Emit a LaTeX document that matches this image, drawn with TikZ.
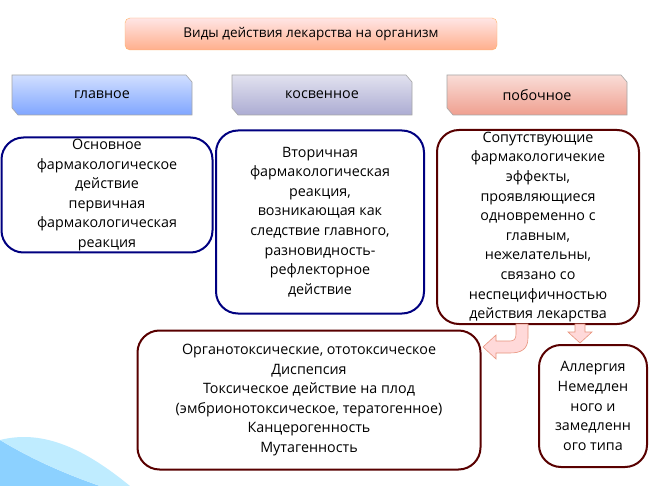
\documentclass[tikz,border=0pt]{standalone}
\usepackage{fontspec}
\setmainfont{Open Sans}
\usetikzlibrary{shapes.geometric,arrows.meta}
\begin{document}
\begin{tikzpicture}[x=1pt,y=-1pt,
  txt/.style={font=\fontsize{14.3}{19.6}\selectfont,align=center,text=black,inner sep=0pt},
  bigbox/.style={draw=#1,line width=2pt,rounded corners=22pt,fill=white},
  tag/.style={draw=gray!70,line width=0.6pt,top color=#1!18,bottom color=#1!50}]
\useasboundingbox (0,0) rectangle (650,486);
\fill[white] (0,0) rectangle (650,486);
\fill[blue!40!cyan!45] (0,486) -- (0,440) .. controls (30,458) and (60,472) .. (100,486) -- cycle;
\fill[blue!30!cyan!25] (0,440) .. controls (40,430) and (80,445) .. (130,486) -- (100,486) .. controls (60,472) and (30,458) .. (0,440);
% title
\node[draw=orange!60,rounded corners=5pt,top color=red!10,bottom color=red!40!orange!45,
  minimum width=372pt,minimum height=32pt,txt,font=\fontsize{13.5}{15}\selectfont] (t) at (311,34) {Виды действия лекарства на организм};
% tags
\foreach \n/\cx/\c/\l in {g/102/blue!70!cyan/главное,k/322/blue!30!gray/косвенное,p/537/red!50!brown/побочное}{
  \path[tag=\c] (\cx-90,75) -- (\cx+84,75) -- (\cx+90,82) -- (\cx+90,115) -- (\cx-84,115) -- (\cx-90,108) -- cycle;
  \node[txt] (\n) at (\cx,95) {\l};
}
\node[bigbox=blue!50!black,minimum width=211pt,minimum height=115pt,txt] (b1) at (107,195)
 {Основное\\фармакологическое\\действие\\первичная\\фармакологическая\\реакция};
\node[bigbox=blue!50!black,minimum width=208pt,minimum height=183pt,txt] (b2) at (320,222)
 {Вторичная\\фармакологическая\\реакция,\\возникающая как\\следствие главного,\\разновидность-\\рефлекторное\\действие};
\node[bigbox=red!35!black,minimum width=202pt,minimum height=194pt,txt] (b3) at (538,227)
 {Сопутствующие\\фармакологичекие\\эффекты,\\проявляющиеся\\одновременно с\\главным,\\нежелательны,\\связано со\\неспецифичностью\\действия лекарства};
\node[bigbox=red!35!black,minimum width=343pt,minimum height=139pt,txt] (b4) at (309,400)
 {Органотоксические, ототоксическое\\Диспепсия\\Токсическое действие на плод\\(эмбрионотоксическое, тератогенное)\\Канцерогенность\\Мутагенность};
\node[bigbox=red!35!black,minimum width=108pt,minimum height=122pt,txt] (b5) at (593,406)
 {Аллергия\\Немедлен\\ного и\\замедленн\\ого типа};
% arrows
\fill[red!15,draw=red!40!brown!60,line width=0.6pt]
 (516,324) -- (528,324) -- (528,338) .. controls (528,350) and (520,353) .. (510,353) -- (496,353)
 -- (496,359) -- (483,347) -- (496,335) -- (496,341) -- (510,341) .. controls (514,341) and (516,339) .. (516,334) -- cycle;
\fill[red!15,draw=red!40!brown!60,line width=0.6pt]
 (575,324) -- (585,324) -- (585,332) -- (592,332) -- (580,343) -- (568,332) -- (575,332) -- cycle;
\end{tikzpicture}
\end{document}
